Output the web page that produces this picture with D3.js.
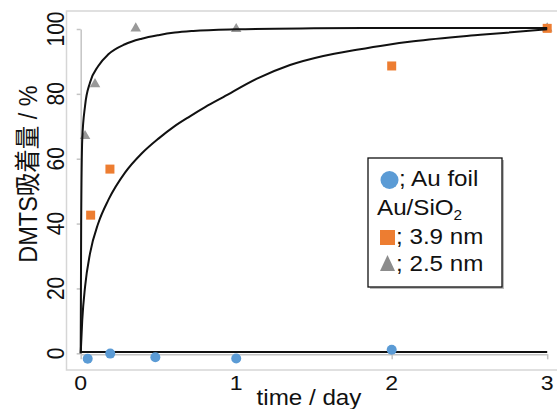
<!DOCTYPE html>
<html>
<head>
<meta charset="utf-8">
<script src="https://cdn.jsdelivr.net/npm/d3@7"></script>
<style>
  body { margin: 0; background: #fff; }
  text { font-family: "Liberation Sans", Arial, "Noto Sans CJK JP", sans-serif; fill: #111; }
</style>
</head>
<body>
<svg id="chart"></svg>
<script>
// chart size
var width = 557,
    height = 409;

// tick values
var xTicks = [0, 1, 2, 3];
var yTicks = [0, 20, 40, 60, 80, 100];

// measured points, [day, %]
var foilDays   = [0.045, 0.19, 0.48, 1.0, 2.0];
var foilVals   = [-1.7, -0.1, -1.2, -1.6, 1.1];
var nm39Days   = [0.064, 0.188, 2.0, 3.0];
var nm39Vals   = [42.6, 56.8, 88.6, 100.2];
var nm25Days   = [0.028, 0.092, 0.354, 1.0, 3.0];
var nm25Vals   = [67.0, 83.0, 100.2, 100.0, 100.2];

// fitted curves, points
var fitFoil = [[0, 0.4], [3, 0.4]];
var fit25 = [[0, 0], [0.003, 40], [0.01, 66], [0.028, 76.3], [0.06, 83.5], [0.113, 88.6],
             [0.178, 92.2], [0.285, 95.3], [0.392, 97.0], [0.5, 98.1], [0.606, 98.9],
             [0.724, 99.4], [1.0, 99.9], [1.5, 100.2], [2.0, 100.3], [2.5, 100.3], [3.0, 100.3]];
var fit39 = [[0, 0], [0.01, 10.3], [0.028, 20.5], [0.06, 30.8], [0.113, 40.1], [0.178, 47.3],
             [0.285, 55.7], [0.392, 61.6], [0.5, 66.2], [0.6, 69.9], [0.7, 73.0], [0.8, 75.9],
             [0.917, 79.0], [1.13, 84.6], [1.346, 88.9], [1.56, 91.7], [1.775, 93.6],
             [1.968, 95.1], [2.14, 96.2], [2.57, 98.2], [3.0, 99.9]];

var blue = "#5b9bd5", orange = "#ed7d31", grey = "#999999", axisGrey = "#c4c4c4";
var stretch = 1.1; // picture is a bit wider than tall

var svg = d3.select("#chart")
    .attr("width", width)
    .attr("height", height);

var x = d3.scaleLinear().domain([0, 3]).range([80.7, 547.2]);
var y = d3.scaleLinear().domain([0, 100]).range([353.3, 29]);

// outer plot frame
svg.append("rect")
    .attr("x", 66.5).attr("y", 11)
    .attr("width", 500).attr("height", 359)
    .style("fill", "none")
    .style("stroke", "#d6d6d6")
    .style("stroke-width", 1.5);

// axes (grey, labels drawn separately)
var gy = svg.append("g")
    .attr("transform", "translate(" + x(0) + ",0)")
    .call(d3.axisLeft(y).tickValues(yTicks).tickSize(4).tickSizeOuter(0).tickFormat(""));
var gx = svg.append("g")
    .attr("transform", "translate(0," + (y(0) + 1) + ")")
    .call(d3.axisBottom(x).tickValues(xTicks).tickSize(5).tickSizeOuter(0).tickFormat(""));
svg.selectAll(".domain, .tick line")
    .style("stroke", axisGrey)
    .style("stroke-width", 1.5);

function stretched(sel, px, py, rot) {
  return sel.attr("transform", "translate(" + px + "," + py + ") scale(" + stretch + ",1)" + (rot ? " rotate(-90)" : ""));
}

// y tick labels
svg.selectAll(".ylab")
    .data(yTicks)
    .enter().append("text")
      .attr("class", "ylab")
      .attr("text-anchor", "middle")
      .style("font-size", "21px")
      .each(function(d) { stretched(d3.select(this), 64, y(d), true); })
      .text(function(d) { return d; });

// x tick labels
svg.selectAll(".xlab")
    .data(xTicks)
    .enter().append("text")
      .attr("class", "xlab")
      .attr("text-anchor", "middle")
      .style("font-size", "21px")
      .each(function(d) { stretched(d3.select(this), x(d), 390, false); })
      .text(function(d) { return d; });

// axis titles
stretched(svg.append("text"), 309, 405, false)
    .attr("text-anchor", "middle")
    .style("font-size", "22px")
    .text("time / day");
stretched(svg.append("text"), 37, 174, true)
    .attr("text-anchor", "middle")
    .style("font-size", "23.5px")
    .text("DMTS吸着量 / %");

// markers
var tri = d3.symbol().type(d3.symbolTriangle).size(48);

svg.selectAll(".t25")
    .data(nm25Days)
    .enter().append("path")
      .attr("class", "t25")
      .attr("d", tri)
      .attr("transform", function(d, i) { return "translate(" + x(d) + "," + y(nm25Vals[i]) + ")"; })
      .style("fill", grey);

svg.selectAll(".s39")
    .data(nm39Days)
    .enter().append("rect")
      .attr("class", "s39")
      .attr("x", function(d) { return x(d) - 4.5; })
      .attr("y", function(d, i) { return y(nm39Vals[i]) - 4.5; })
      .attr("width", 9).attr("height", 9)
      .style("fill", orange);

// fitted lines
var line = d3.line()
    .x(function(d) { return x(d[0]); })
    .y(function(d) { return y(d[1]); })
    .curve(d3.curveMonotoneX);

[fitFoil, fit25, fit39].forEach(function(f) {
  svg.append("path")
      .attr("d", line(f))
      .style("fill", "none")
      .style("stroke", "#111")
      .style("stroke-width", 2);
});

svg.selectAll(".foil")
    .data(foilDays)
    .enter().append("circle")
      .attr("class", "foil")
      .attr("cx", function(d) { return x(d); })
      .attr("cy", function(d, i) { return y(foilVals[i]); })
      .attr("r", 5)
      .style("fill", blue);

// legend
var lg = svg.append("g");
lg.append("rect")
    .attr("x", 370).attr("y", 160)
    .attr("width", 134).attr("height", 129)
    .style("fill", "#bbb");
lg.append("rect")
    .attr("x", 368).attr("y", 158)
    .attr("width", 134).attr("height", 129)
    .style("fill", "#fff")
    .style("stroke", "#111")
    .style("stroke-width", 1.3);

lg.append("circle")
    .attr("cx", 389.5).attr("cy", 180).attr("r", 9)
    .style("fill", blue);
stretched(lg.append("text"), 399, 186, false)
    .style("font-size", "22px")
    .text("; Au foil");

var t2 = stretched(lg.append("text"), 377, 215, false)
    .style("font-size", "22px");
t2.append("tspan").text("Au/SiO");
t2.append("tspan").attr("dy", 5).style("font-size", "14px").text("2");

lg.append("rect")
    .attr("x", 380).attr("y", 230)
    .attr("width", 15).attr("height", 15)
    .style("fill", orange);
stretched(lg.append("text"), 396, 244, false)
    .style("font-size", "22px")
    .text("; 3.9 nm");

lg.append("path")
    .attr("d", "M380,271L387.5,255L395,271Z")
    .style("fill", "#8c8c8c");
stretched(lg.append("text"), 396, 271, false)
    .style("font-size", "22px")
    .text("; 2.5 nm");
</script>
</body>
</html>
